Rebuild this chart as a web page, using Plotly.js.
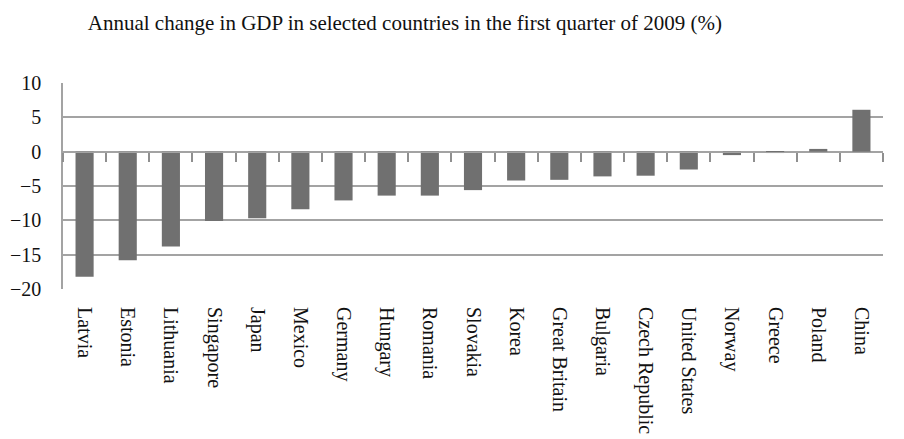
<!DOCTYPE html>
<html>
<head>
<meta charset="utf-8">
<script src="https://cdn.plot.ly/plotly-3.0.1.min.js"></script>
<style>
  html, body { margin: 0; padding: 0; background: #fff; }
  #chart { width: 904px; height: 439px; }
</style>
</head>
<body>
<div id="chart"></div>
<script>
// Annual GDP change, Q1 2009 (%)
const countries = [
  "Latvia", "Estonia", "Lithuania", "Singapore", "Japan", "Mexico",
  "Germany", "Hungary", "Romania", "Slovakia", "Korea", "Great Britain",
  "Bulgaria", "Czech Republic", "United States", "Norway", "Greece",
  "Poland", "China"
];
const gdpChange = [
  -18.2, -15.8, -13.8, -10.1, -9.7, -8.4,
  -7.1, -6.4, -6.4, -5.6, -4.2, -4.1,
  -3.6, -3.5, -2.6, -0.5, -0.2,
  0.4, 6.1
];
const yTicks = [-20, -15, -10, -5, 0, 5, 10];
const yRange = [-20, 10];

const serif = "'Liberation Serif', 'Times New Roman', serif";
const gridGrey = "#a3a3a3";

// slot indices and the boundaries between category slots
const slotIndex = countries.map((_, i) => i);
const slotEdges = countries.map((_, i) => i - 0.5).concat([countries.length - 0.5]);
const catRange = [-0.5, countries.length - 0.5];

const bars = {
  type: "bar",
  x: countries,
  y: gdpChange,
  marker: { color: "#707070" },
  hoverinfo: "x+y"
};

// invisible companion trace that carries the axis running along y = 0
const baselineTrace = {
  type: "scatter",
  mode: "markers",
  x: slotIndex,
  y: gdpChange,
  xaxis: "x2",
  marker: { opacity: 0 },
  hoverinfo: "skip",
  showlegend: false
};

// fraction of the plot height where y = 0 sits
const zeroPos = (0 - yRange[0]) / (yRange[1] - yRange[0]);

const layout = {
  width: 904,
  height: 439,
  margin: { l: 63, r: 21, t: 83, b: 150 },
  showlegend: false,
  bargap: 0.58,
  title: {
    text: "Annual change in GDP in selected countries in the first quarter of 2009 (%)",
    font: { family: serif, size: 21, color: "#111" },
    xref: "paper",
    x: 0.417,
    xanchor: "center",
    yref: "container",
    y: 0.948,
    yanchor: "middle"
  },
  xaxis: {
    type: "category",
    range: catRange,
    side: "bottom",
    tickangle: 90,
    ticks: "",
    showline: false,
    showgrid: false,
    zeroline: false,
    ticklabelstandoff: 17,
    tickfont: { family: serif, size: 20, color: "#111" }
  },
  xaxis2: {
    type: "linear",
    range: catRange,
    overlaying: "x",
    anchor: "free",
    position: zeroPos,
    side: "bottom",
    tickmode: "array",
    tickvals: slotEdges,
    showticklabels: false,
    ticks: "outside",
    ticklen: 9,
    tickwidth: 2,
    tickcolor: "#8f8f8f",
    showline: true,
    linecolor: gridGrey,
    showgrid: false,
    zeroline: false
  },
  yaxis: {
    range: yRange,
    tickvals: yTicks,
    ticktext: yTicks.map(v => v < 0 ? "\u2212" + Math.abs(v) : String(v)),
    ticks: "",
    showline: true,
    linecolor: gridGrey,
    linewidth: 1.5,
    showgrid: true,
    gridcolor: gridGrey,
    gridwidth: 1.5,
    zeroline: false,
    ticklabelstandoff: 16,
    tickfont: { family: serif, size: 20, color: "#111" }
  }
};

Plotly.newPlot("chart", [bars, baselineTrace], layout, { displayModeBar: false });
</script>
</body>
</html>
